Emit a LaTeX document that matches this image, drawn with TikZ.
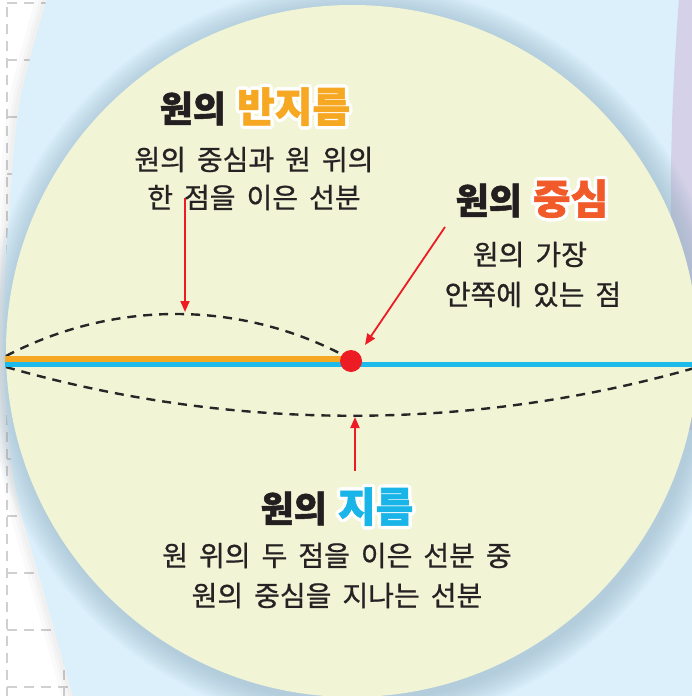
\documentclass[tikz,border=0pt]{standalone}
\usepackage{fontspec}
\newfontfamily\kr{Noto Sans CJK KR}[BoldFeatures={FakeBold=1.4}]
\newfontfamily\krbody{Noto Sans CJK KR}[FakeBold=0.8]
\usetikzlibrary{arrows.meta}
\definecolor{gridc}{RGB}{208,208,208}
\definecolor{bluebg}{RGB}{219,240,251}
\definecolor{purplebg}{RGB}{212,209,232}
\definecolor{shadowc}{RGB}{140,170,190}
\definecolor{circfill}{RGB}{241,245,214}
\definecolor{orangeC}{RGB}{247,168,35}
\definecolor{blueC}{RGB}{28,187,234}
\definecolor{redC}{RGB}{237,28,36}
\definecolor{centerC}{RGB}{241,90,41}
\definecolor{diamC}{RGB}{25,180,232}
\definecolor{titleC}{RGB}{35,31,32}
\definecolor{bodyC}{RGB}{38,34,35}
\newcommand\wc[3]{\rlap{\hspace*{#1}\raisebox{#2}{\textcolor{white}{#3}}}}
\newcommand\outlined[2]{%
  \foreach \a in {0,30,...,330}{%
    \pgfmathsetlengthmacro\odx{3.4pt*cos(\a)}%
    \pgfmathsetlengthmacro\ody{3.4pt*sin(\a)}%
    \wc{\odx}{\ody}{#2}}%
  \textcolor{#1}{#2}}
\newcommand\titlefont{\kr\bfseries\fontsize{36}{36}\selectfont}
\newcommand\colfont{\fontsize{41}{41}\selectfont}
\newcommand\bodyfont{\krbody\fontsize{28}{32}\selectfont\spaceskip=11pt plus 1pt minus 1pt\relax}
\tikzset{
  gridline/.style={draw=gridc, line width=1.2pt, dash pattern=on 10pt off 7pt},
  dasharc/.style={draw=black!85, line width=2.4pt, dash pattern=on 9pt off 7pt},
  redarrow/.style={draw=redC, line width=1.8pt, -{Triangle[length=11pt,width=9pt]}},
  bodytext/.style={font=\bodyfont, text=bodyC, inner sep=0pt, anchor=base},
  titletext/.style={font=\titlefont, text=titleC, inner sep=0pt, anchor=base},
}
\begin{document}
\begin{tikzpicture}[x=1pt,y=-1pt]
\useasboundingbox (0,0) rectangle (692,696);
\fill[white] (0,0) rectangle (692,696);
% dashed grid on the paper
\begin{scope}
  \clip (0,0) rectangle (692,696);
  \foreach \x in {7,64,...,692} \draw[gridline] (\x,-10) -- (\x,706);
  \foreach \y in {3,60,...,696} \draw[gridline] (-10,\y) -- (702,\y);
\end{scope}
% soft shadow of the blue sheet
\foreach \w in {22,14,8}
  \draw[black, opacity=0.02, line width=\w pt]
    plot[smooth] coordinates {(48,-5) (20,100) (10,200) (3,340) (14,480) (46,600) (74,700)};
% blue sheet
\fill[bluebg] plot[smooth] coordinates {(48,-5) (20,100) (10,200) (3,340) (14,480) (46,600) (74,700)}
  -- (700,700) -- (700,-5) -- cycle;
% purple sheet
\fill[purplebg] (679,-2) .. controls (670,120) and (664,260) .. (686,430) -- (700,430) -- (700,-2) -- cycle;
% circle shadow
\foreach \k in {2,4,...,26}
  \fill[shadowc, opacity=0.045] (355,355) circle (346+\k);
% circle
\node[circle, fill=circfill, minimum size=692pt, inner sep=0pt] (circ) at (352,351) {};
% end points and reference coordinates
\coordinate (L1) at (6,356);
\coordinate (L2) at (6,367);
\coordinate (R2) at (698,367);
\coordinate (Ru) at (345,356);
\coordinate (Ls) at (5,359);
\coordinate (Lb) at (5,364.5);
\coordinate (Os) at (347,359);
\coordinate (Rb) at (698,364.5);
% dashed arcs
\draw[dasharc] (L1) .. controls (113,300) and (239,300) .. (Ru);
\draw[dasharc] (L2) .. controls (232,432) and (472,432) .. (R2);
% diameter and radius
\draw[blueC, line width=5.5pt] (Lb) -- (Rb);
\draw[orangeC, line width=6pt] (Ls) -- (Os);
% centre
\node[circle, fill=redC, minimum size=22pt, inner sep=0pt] (O) at (351,361) {};
% arrows
\coordinate (ra) at (185,198);
\coordinate (rb) at (185,312);
\coordinate (ca) at (445,227);
\coordinate (cb) at (365,345);
\coordinate (da) at (355,471);
\coordinate (db) at (355,417);
\draw[redarrow] (ra) -- (rb);
\draw[redarrow] (ca) -- (cb);
\draw[redarrow] (da) -- (db);
% radius text
\node[titletext] (rt) at (255,122) {원의\hspace{11pt}\outlined{orangeC}{\colfont 반지름}};
\node[bodytext] (r1) at (254,170) {원의 중심과 원 위의};
\node[bodytext] (r2) at (254,208) {한 점을 이은 선분};
% centre text
\node[titletext] (ct) at (532,214) {원의\hspace{11pt}\outlined{centerC}{\colfont 중심}};
\node[bodytext] (c1) at (530,265) {원의 가장};
\node[bodytext] (c2) at (533,305) {안쪽에 있는 점};
% diameter text
\node[titletext] (dt) at (337,522) {원의\hspace{11pt}\outlined{diamC}{\colfont 지름}};
\node[bodytext] (d1) at (337,566) {원 위의 두 점을 이은 선분 중};
\node[bodytext] (d2) at (337,606) {원의 중심을 지나는 선분};
\end{tikzpicture}
\end{document}
